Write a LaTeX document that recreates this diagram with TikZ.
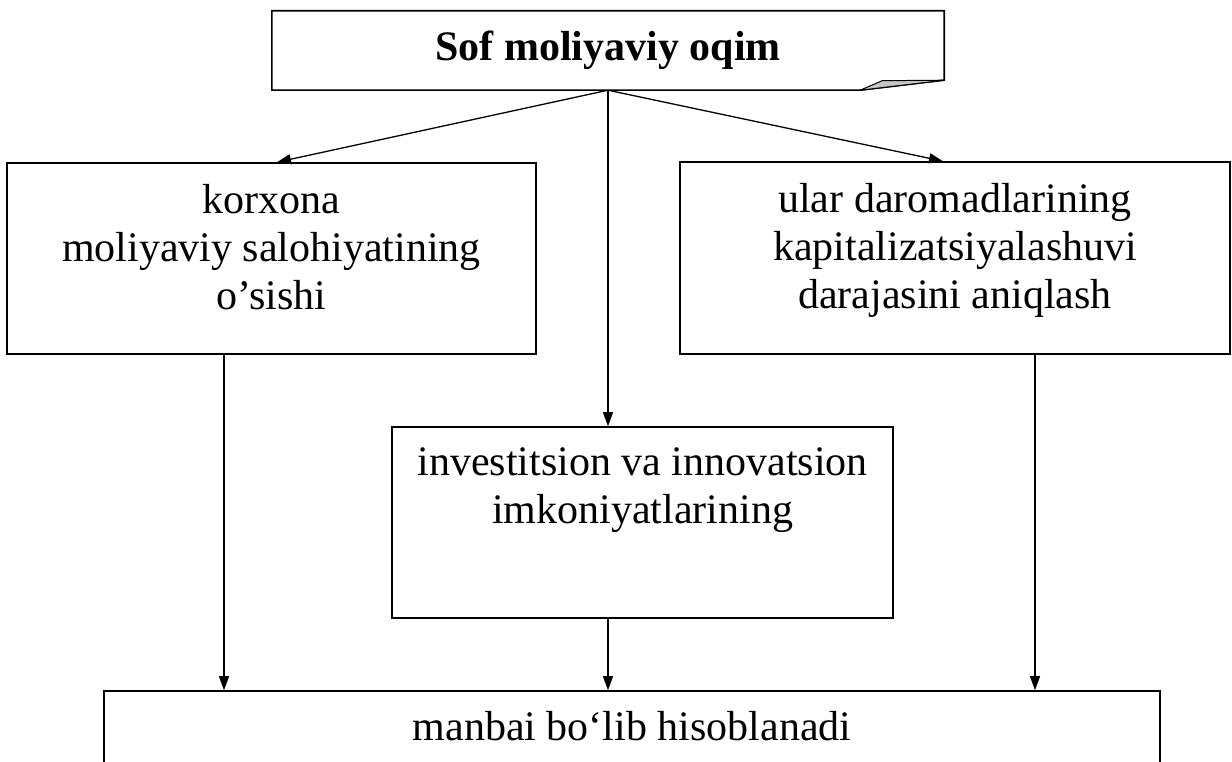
\documentclass[tikz,border=0pt]{standalone}
\usepackage{fontspec}
\setmainfont{Liberation Serif}
\usetikzlibrary{arrows.meta}

\begin{document}
\begin{tikzpicture}[
        x=1pt, y=-1pt,
        >={Triangle[length=14pt,width=10pt]},
        box/.style={rectangle, draw, line width=1.6pt, inner sep=0pt},
        txt/.style={anchor=north, inner sep=0pt, align=center, font=\fontsize{42}{48}\selectfont},
        link/.style={->, line width=1.3pt}
    ]
    \useasboundingbox (0,0) rectangle (1232,762);

    % Bloklar
    \node[inner sep=0pt, minimum width=672pt, minimum height=79pt,
          font=\fontsize{42}{48}\selectfont\bfseries] (top) at (608,50.5) {Sof moliyaviy oqim};
    \node[box, minimum width=529pt, minimum height=191pt] (lbox) at (271.5,258.5) {};
    \node[box, minimum width=550pt, minimum height=192pt] (rbox) at (955,258) {};
    \node[box, minimum width=501pt, minimum height=191pt] (mid)  at (642.5,522.5) {};
    \node[box, minimum width=1056pt, minimum height=110pt] (bot) at (632,746) {};

    % Buklangan burchakli ramka
    \draw[line width=1.6pt] (top.north west) -- (top.north east) -- ([yshift=10pt]top.south east)
        -- ([xshift=-84pt]top.south east) -- (top.south west) -- cycle;
    \filldraw[fill=gray!45, line width=1pt] ([xshift=-84pt]top.south east) -- ([xshift=-62pt,yshift=9.5pt]top.south east)
        -- ([yshift=10pt]top.south east) -- cycle;

    % Matnlar
    \node[txt] (ltext) at ([yshift=-21.5pt]lbox.north) {korxona\\moliyaviy salohiyatining\\o’sishi};
    \node[txt] (rtext) at ([yshift=-21.5pt]rbox.north) {ular daromadlarining\\kapitalizatsiyalashuvi\\darajasini aniqlash};
    \node[txt] (mtext) at ([yshift=-21.5pt]mid.north) {investitsion va innovatsion\\imkoniyatlarining};
    \node[txt] (btext) at ([yshift=-20.5pt]bot.north) {manbai bo‘lib hisoblanadi};

    % Yuqoridan tarmoqlanish
    \draw[link] (top.south) -- ([xshift=5.5pt]lbox.north);
    \draw[link] (top.south) -- ([xshift=-12pt]rbox.north);
    \draw[link] (top.south) -- (mid.north -| top.south);

    % Pastga tushuvchi chiziqlar
    \draw[link] ([xshift=-47.5pt]lbox.south) -- ([xshift=-47.5pt]lbox.south |- bot.north);
    \draw[link] (mid.south -| top.south) -- (bot.north -| top.south);
    \draw[link] ([xshift=80pt]rbox.south) -- ([xshift=80pt]rbox.south |- bot.north);

\end{tikzpicture}
\end{document}
